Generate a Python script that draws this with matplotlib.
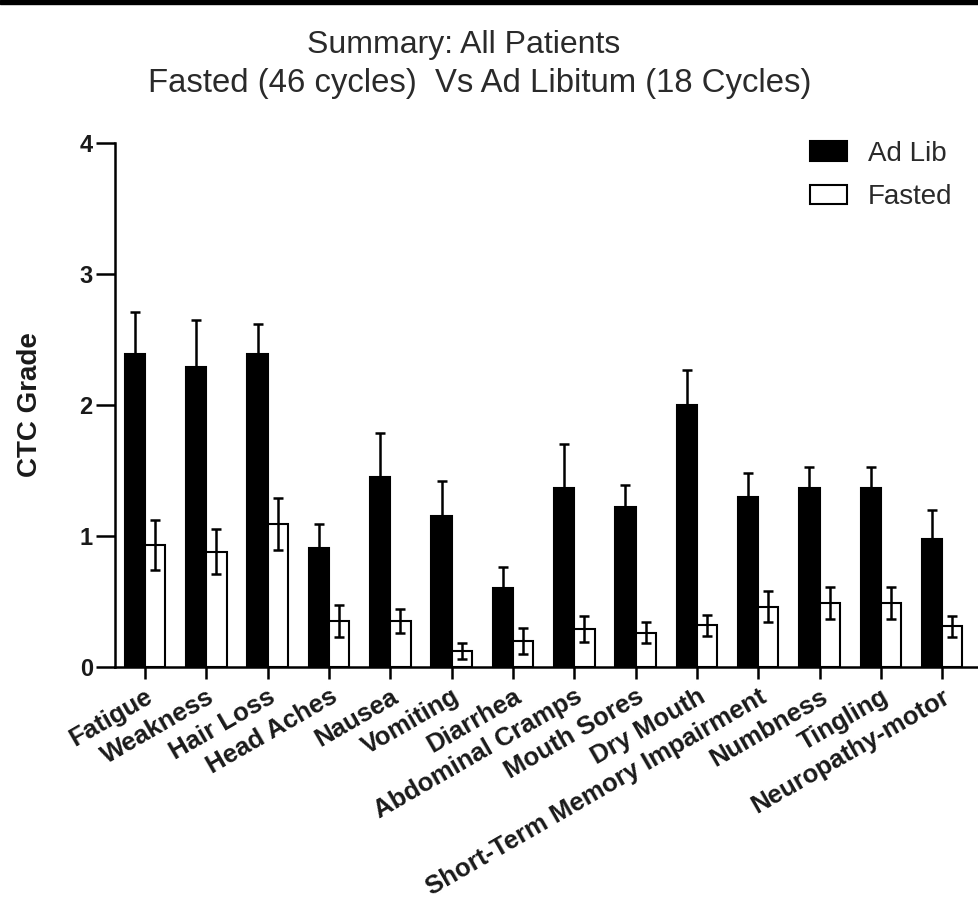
import matplotlib.pyplot as plt
import numpy as np

plt.rcParams['font.family'] = ['Liberation Sans', 'DejaVu Sans']

categories = ['Fatigue', 'Weakness', 'Hair Loss', 'Head Aches', 'Nausea', 'Vomiting',
              'Diarrhea', 'Abdominal Cramps', 'Mouth Sores', 'Dry Mouth',
              'Short-Term Memory Impairment', 'Numbness', 'Tingling', 'Neuropathy-motor']
ad_lib = [2.39, 2.29, 2.39, 0.91, 1.45, 1.15, 0.60, 1.37, 1.22, 2.00, 1.30, 1.37, 1.37, 0.98]
ad_lib_err = [0.32, 0.36, 0.23, 0.18, 0.34, 0.27, 0.16, 0.33, 0.17, 0.27, 0.18, 0.16, 0.16, 0.22]
fasted = [0.93, 0.88, 1.09, 0.35, 0.35, 0.12, 0.20, 0.29, 0.26, 0.32, 0.46, 0.49, 0.49, 0.31]
fasted_err = [0.19, 0.17, 0.20, 0.12, 0.09, 0.06, 0.10, 0.10, 0.08, 0.08, 0.12, 0.12, 0.12, 0.08]

W, H = 979, 916
fig = plt.figure(figsize=(W / 100, H / 100), dpi=100)
# thin black strip along the top edge
fig.patches.append(plt.Rectangle((0, 1 - 4 / H), 1, 4 / H, transform=fig.transFigure,
                                 color='black', zorder=0))

ax = fig.add_axes([115 / W, 1 - 667 / H, 864 / W, (667 - 143) / H])

x = np.arange(len(categories))
w = 0.33
ax.bar(x - w, ad_lib, w, align='edge', color='black', edgecolor='black', linewidth=1.5,
       label='Ad Lib', zorder=2)
ax.bar(x, fasted, w, align='edge', color='white', edgecolor='black', linewidth=1.5,
       label='Fasted', zorder=2)
ax.errorbar(x - w / 2, ad_lib, yerr=[np.zeros(len(ad_lib)), ad_lib_err], fmt='none',
            ecolor='black', elinewidth=1.8, capsize=3.6, capthick=1.8, zorder=3)
ax.errorbar(x + w / 2, fasted, yerr=fasted_err, fmt='none',
            ecolor='black', elinewidth=1.8, capsize=3.6, capthick=1.8, zorder=3)

ax.set_xlim(-0.49, 13.6)
ax.set_ylim(0, 4)
ax.set_yticks([0, 1, 2, 3, 4])
ax.set_xticks(x)
ax.set_xticklabels(categories, rotation=30, ha='right', va='top', rotation_mode='anchor',
                   fontsize=18.5, fontweight='bold', color='#1a1a1a')
for lab in ax.get_yticklabels():
    lab.set_fontsize(17)
    lab.set_fontweight('bold')
    lab.set_color('#1a1a1a')

for side in ['top', 'right']:
    ax.spines[side].set_visible(False)
for side in ['left', 'bottom']:
    ax.spines[side].set_linewidth(1.8)
ax.tick_params(axis='y', length=14, width=1.8, pad=2)
ax.tick_params(axis='x', length=8.5, width=1.8, pad=4)

ax.set_ylabel('CTC Grade', fontsize=20, fontweight='bold', color='#1a1a1a')
ax.yaxis.set_label_coords(-0.083, 0.5)

fig.text(464 / W, 1 - 53 / H, 'Summary: All Patients', ha='center', va='baseline',
         fontsize=23, color='#2a2a2a')
fig.text(480 / W, 1 - 92 / H, 'Fasted (46 cycles)  Vs Ad Libitum (18 Cycles)', ha='center',
         va='baseline', fontsize=23.7, color='#2a2a2a')

ax.legend(loc='upper left', bbox_to_anchor=(810 / W, 1 - 141 / H),
          bbox_transform=fig.transFigure, frameon=False, fontsize=20, borderpad=0,
          handlelength=1.33, handleheight=0.72, handletextpad=0.75, labelspacing=0.62,
          borderaxespad=0, labelcolor='#2a2a2a')

fig.savefig('out.png', dpi=100)
